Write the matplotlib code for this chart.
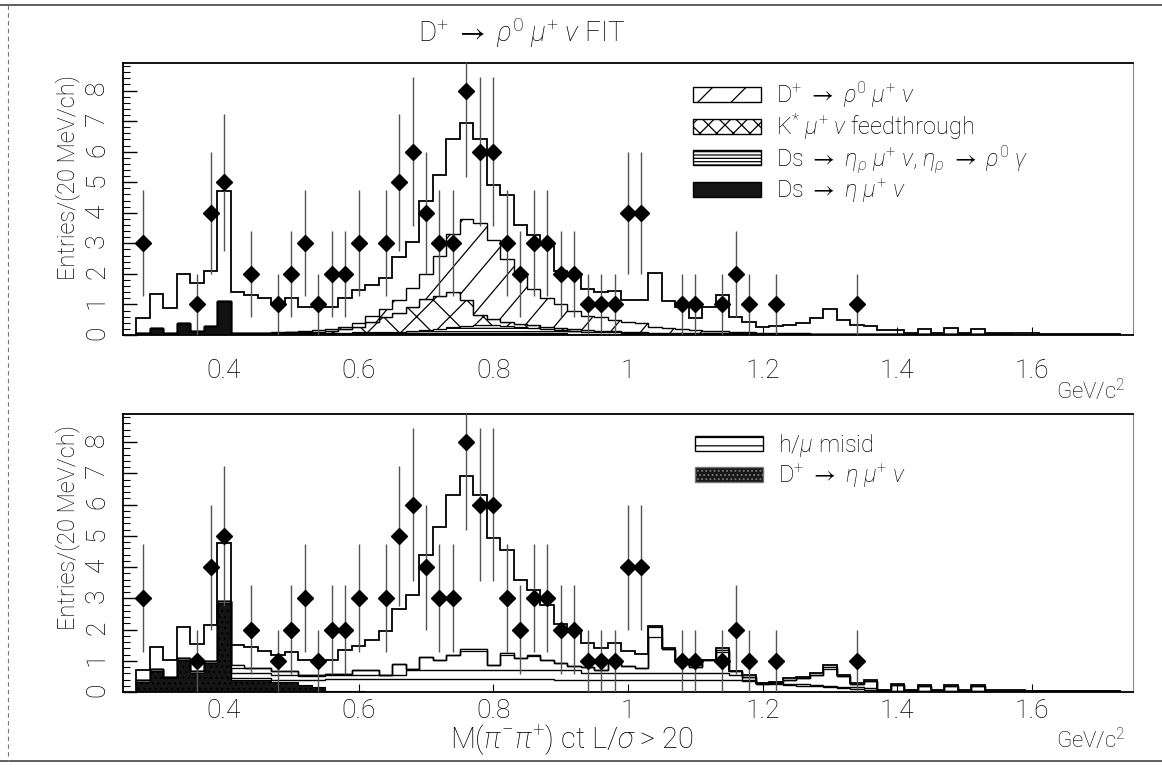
import numpy as np
import matplotlib
matplotlib.use("Agg")
import matplotlib.pyplot as plt
from matplotlib.patches import Patch
from matplotlib.lines import Line2D

plt.rcParams.update({
    "font.family": ["Roboto", "DejaVu Sans"],
    "font.weight": "light",
    "mathtext.fontset": "custom",
    "mathtext.rm": "Roboto:light",
    "mathtext.it": "Roboto:italic:light",
    "mathtext.bf": "Roboto:bold",
    "mathtext.fallback": "stixsans",
    "hatch.linewidth": 0.9,
})

# ---------------- data ----------------
bin_low = 0.27        # GeV/c^2, first bin edge
bin_width = 0.02      # 20 MeV / channel
n_bins = 73

x_ticks = [0.4, 0.6, 0.8, 1.0, 1.2, 1.4, 1.6]
x_tick_labels = ["0.4", "0.6", "0.8", "1", "1.2", "1.4", "1.6"]
y_ticks = [0, 1, 2, 3, 4, 5, 6, 7, 8]

counts = [3, 0, 0, 0, 1, 4, 5, 0, 2, 0,
          1, 2, 3, 1, 2, 2, 3, 0, 3, 5,
          6, 4, 3, 3, 8, 6, 6, 3, 2, 3,
          3, 2, 2, 1, 1, 1, 4, 4, 0, 0,
          1, 1, 0, 1, 2, 1, 0, 1, 0, 0,
          0, 0, 0, 1, 0, 0, 0, 0, 0, 0,
          0, 0, 0, 0, 0, 0, 0, 0, 0, 0,
          0, 0, 0]

# top panel : fit components
total_top = [0.55, 1.33, 0.87, 1.99, 1.69, 2.10, 4.70, 1.42, 1.31, 1.20,
             1.05, 1.20, 0.90, 0.90, 0.90, 1.20, 1.47, 1.62, 1.85, 2.56,
             3.03, 4.37, 5.24, 6.40, 6.94, 6.40, 4.90, 4.58, 3.60, 3.28,
             3.00, 2.10, 2.00, 1.52, 1.42, 1.45, 1.15, 1.15, 2.04, 1.10,
             0.91, 0.55, 0.91, 1.31, 0.60, 0.44, 0.25, 0.28, 0.34, 0.39,
             0.55, 0.84, 0.49, 0.33, 0.28, 0.17, 0.15, 0.08, 0.20, 0.08,
             0.22, 0.08, 0.20, 0.06, 0.06, 0.05, 0.05, 0.04, 0.04, 0.04,
             0.04, 0.03, 0.03]
ds_eta_top = [0.06, 0.22, 0.08, 0.38, 0.12, 0.30, 1.12, 0.06, 0.05, 0.05,
              0.05, 0.05, 0.05, 0.05, 0.05, 0.05, 0.05, 0.05, 0.05, 0.05,
              0.05, 0.05, 0.05, 0.05, 0.05, 0.05, 0.05, 0.05, 0.05, 0.05,
              0.05, 0.05, 0.04, 0.04, 0.04, 0.04, 0.04, 0.04, 0.03, 0.03,
              0.03, 0.03, 0.03, 0.03, 0.02, 0.02, 0.02, 0.02, 0.02, 0.02,
              0.02, 0.02, 0.02, 0.02, 0.02, 0.02, 0.02, 0.02, 0.03, 0.02,
              0.02, 0.02, 0.03, 0.02, 0.02, 0.01, 0.01, 0.01, 0.01, 0.01,
              0.01, 0.01, 0.01]
ds_etap_top = [0, 0, 0, 0, 0, 0, 0, 0.02, 0.02, 0.02,
               0.02, 0.02, 0.02, 0.02, 0.03, 0.03, 0.04, 0.04, 0.05, 0.06,
               0.08, 0.12, 0.15, 0.20, 0.26, 0.28, 0.28, 0.26, 0.22, 0.18,
               0.14, 0.10, 0.08, 0.06, 0.05, 0.05, 0.04, 0.04, 0.03, 0.03,
               0.03, 0.02, 0.02, 0.02, 0.02, 0.02, 0.01, 0.01, 0.01, 0.01,
               0, 0, 0, 0, 0, 0, 0, 0, 0, 0,
               0, 0, 0, 0, 0, 0, 0, 0, 0, 0,
               0, 0, 0]
kstar_top = [0, 0, 0, 0, 0, 0, 0, 0, 0, 0,
             0.01, 0.02, 0.03, 0.04, 0.05, 0.10, 0.18, 0.33, 0.48, 0.62,
             0.80, 1.00, 1.08, 1.15, 0.82, 0.32, 0.18, 0.12, 0.10, 0.09,
             0.08, 0.07, 0.06, 0.05, 0.04, 0.04, 0.03, 0.03, 0.02, 0.02,
             0.02, 0.02, 0.01, 0.01, 0.01, 0.01, 0.01, 0.01, 0.01, 0.01,
             0, 0, 0, 0, 0, 0, 0, 0, 0, 0,
             0, 0, 0, 0, 0, 0, 0, 0, 0, 0,
             0, 0, 0]
rho_top = [0, 0, 0, 0, 0, 0, 0, 0, 0, 0,
           0.01, 0.02, 0.03, 0.04, 0.05, 0.07, 0.12, 0.20, 0.26, 0.40,
           0.60, 0.82, 1.30, 1.90, 2.65, 3.00, 2.60, 2.05, 1.55, 1.18,
           0.95, 0.78, 0.62, 0.48, 0.45, 0.36, 0.31, 0.27, 0.17, 0.14,
           0.12, 0.10, 0.08, 0.06, 0.05, 0.04, 0.03, 0.03, 0.02, 0.02,
           0, 0, 0, 0, 0, 0, 0, 0, 0, 0,
           0, 0, 0, 0, 0, 0, 0, 0, 0, 0,
           0, 0, 0]

# bottom panel : fit components
total_bot = [0.72, 1.45, 1.02, 2.09, 1.53, 2.15, 4.78, 1.50, 1.43, 1.32,
             1.18, 1.29, 1.04, 1.04, 1.04, 1.34, 1.47, 1.66, 1.95, 2.65,
             3.12, 4.40, 5.28, 6.30, 6.93, 6.30, 4.93, 4.54, 3.58, 3.26,
             2.78, 2.17, 1.93, 1.58, 1.40, 1.56, 1.32, 1.22, 2.10, 1.40,
             1.02, 0.86, 1.04, 1.40, 0.68, 0.54, 0.30, 0.33, 0.44, 0.47,
             0.60, 0.86, 0.54, 0.28, 0.38, 0.08, 0.25, 0.08, 0.22, 0.08,
             0.22, 0.08, 0.22, 0.06, 0.05, 0.05, 0.04, 0.04, 0.03, 0.03,
             0.03, 0.02, 0.02]
d_eta_bot = [0.33, 0.68, 0.44, 1.04, 0.62, 0.94, 2.85, 0.40, 0.40, 0.40,
             0.33, 0.33, 0.22, 0.15, 0.03, 0.02, 0.02, 0.01, 0.01, 0.01,
             0.01, 0.01, 0.01, 0.01, 0.01, 0.01, 0.01, 0.01, 0.01, 0.01,
             0.01, 0, 0, 0, 0, 0, 0, 0, 0, 0,
             0, 0, 0, 0, 0, 0, 0, 0, 0, 0,
             0, 0, 0, 0, 0, 0, 0, 0, 0, 0,
             0, 0, 0, 0, 0, 0, 0, 0, 0, 0,
             0, 0, 0]
flat_bot = [0.05, 0.05, 0.05, 0.05, 0.05, 0.05, 0.05, 0.06, 0.06, 0.06,
            0.06, 0.06, 0.15, 0.25, 0.40, 0.40, 0.40, 0.40, 0.40, 0.40,
            0.40, 0.40, 0.40, 0.40, 0.40, 0.40, 0.40, 0.40, 0.40, 0.40,
            0.40, 0.40, 0.40, 0.40, 0.40, 0.40, 0.40, 0.40, 0.40, 0.40,
            0.40, 0.40, 0.40, 0.40, 0.38, 0.35, 0.25, 0.25, 0.22, 0.20,
            0.18, 0.15, 0.12, 0.10, 0.08, 0.03, 0.04, 0.03, 0.03, 0.03,
            0.02, 0.02, 0.02, 0.02, 0.02, 0.02, 0.02, 0.02, 0.02, 0.02,
            0.02, 0.02, 0.02]
other_bot = [0, 0, 0, 0, 0, 0, 0, 0.15, 0.15, 0.15,
             0.15, 0.15, 0.15, 0.12, 0.12, 0.12, 0.12, 0.12, 0.12, 0.12,
             0.30, 0.30, 0.30, 0.30, 0.30, 0.30, 0.30, 0.30, 0.30, 0.30,
             0.30, 0.30, 0.30, 0.20, 0.20, 0.20, 0.20, 0.20, 0.20, 0.20,
             0.20, 0.20, 0.20, 0.20, 0.15, 0.05, 0, 0.05, 0.05, 0.05,
             0.05, 0.05, 0.05, 0.05, 0.05, 0, 0, 0, 0, 0,
             0, 0, 0, 0, 0, 0, 0, 0, 0, 0,
             0, 0, 0]
misid_bot = [0, 0, 0, 0, 0, 0, 0, 0.25, 0.17, 0.15,
             0.12, 0.12, 0.03, 0.02, 0.02, 0.04, 0.16, 0.17, 0.02, 0.37,
             0.04, 0.42, 0.31, 0.49, 0.67, 0.67, 0.15, 0.54, 0.37, 0.49,
             0.33, 0.24, 0.14, 0.19, 0.12, 0.40, 0.23, 0.16, 1.48, 0.77,
             0.44, 0.19, 0.44, 0.73, 0.15, 0.09, 0.03, 0.02, 0.13, 0.20,
             0.32, 0.60, 0.33, 0.10, 0.22, 0.02, 0.18, 0.02, 0.17, 0.02,
             0.18, 0.02, 0.18, 0.01, 0.01, 0.01, 0.01, 0.01, 0.01, 0.01,
             0.01, 0.01, 0.01]
misid_strip_bot = [0, 0, 0, 0, 0, 0, 0, 0.08, 0, 0,
                   0, 0, 0, 0, 0, 0, 0, 0, 0, 0,
                   0, 0, 0, 0, 0.06, 0.06, 0, 0.06, 0, 0.06,
                   0, 0, 0, 0, 0, 0, 0, 0, 0.33, 0,
                   0, 0, 0, 0.06, 0, 0, 0, 0, 0, 0,
                   0, 0.06, 0, 0, 0, 0, 0, 0, 0, 0,
                   0, 0, 0, 0, 0, 0, 0, 0, 0, 0,
                   0, 0, 0]

# ---------------- figure ----------------
W, H = 1162, 767
fig = plt.figure(figsize=(W / 100, H / 100), dpi=100)


def fx(px):
    return px / W


def fy(py):
    return 1 - py / H


ax_top = fig.add_axes([fx(123), fy(335), fx(1133) - fx(123), fy(63) - fy(335)])
ax_bot = fig.add_axes([fx(123), fy(692), fx(1133) - fx(123), fy(414) - fy(692)])

edges = bin_low + bin_width * np.arange(n_bins + 1)
centers = edges[:-1] + bin_width / 2
cnt = np.array(counts, dtype=float)


def style_axes(ax, label_pad):
    ax.set_xlim(0.25, 1.75)
    ax.set_ylim(0, 8.9)
    ax.set_xticks(x_ticks)
    ax.set_xticklabels(x_tick_labels)
    ax.set_yticks(y_ticks)
    ax.set_yticks(np.arange(0, 8.9, 0.2), minor=True)
    ax.tick_params(axis="y", which="major", direction="in", length=10, width=1.0,
                   labelsize=19, pad=10, labelrotation=90)
    ax.tick_params(axis="y", which="minor", direction="in", length=5, width=0.8)
    ax.tick_params(axis="x", which="major", direction="in", length=6, width=0.8,
                   labelsize=19, pad=label_pad)
    for s in ("left", "bottom", "top"):
        ax.spines[s].set_linewidth(1.3)
    ax.spines["right"].set_linewidth(0.8)
    ax.spines["right"].set_color("#888888")


def draw_data(ax):
    m = cnt > 0
    ax.errorbar(centers[m], cnt[m], yerr=np.sqrt(cnt[m]), fmt="D", ms=8.5,
                color="black", ecolor="#555555", elinewidth=1.0, capsize=0,
                zorder=6)


# ---- top panel ----
ax = ax_top
c1 = np.array(ds_eta_top)
c2 = c1 + np.array(ds_etap_top)
c3 = c2 + np.array(kstar_top)
c4 = c3 + np.array(rho_top)
ax.stairs(c1, edges, baseline=0, fill=True, facecolor="#111111",
          edgecolor="black", lw=0.8, zorder=2)
ax.stairs(c2, edges, baseline=c1, fill=True, facecolor="white",
          edgecolor="black", hatch="-----", lw=0.8, zorder=2)
ax.stairs(c3, edges, baseline=c2, fill=True, facecolor="white",
          edgecolor="black", hatch="x", lw=0.9, zorder=2)
rho_patch = ax.stairs(c4, edges, baseline=c3, fill=True, facecolor="white",
                      edgecolor="black", lw=1.0, zorder=2)
# sparse diagonal hatching for the rho component
for x0 in np.arange(-0.3, 1.0, 0.030):
    ln = Line2D([x0, x0 + 1 / 4.4], [0, 1], transform=ax.transAxes,
                color="black", lw=0.9, zorder=2.5)
    ax.add_line(ln)
    ln.set_clip_path(rho_patch)
ax.stairs(total_top, edges, baseline=0, color="black", lw=1.3, zorder=3)
draw_data(ax)
style_axes(ax, 17)

top_handles = [
    Patch(facecolor="white", edgecolor="black", hatch="/", lw=1.0),
    Patch(facecolor="white", edgecolor="black", hatch="xx", lw=1.0),
    Patch(facecolor="white", edgecolor="black", hatch="-----", lw=1.0),
    Patch(facecolor="#161616", edgecolor="black", lw=1.0),
]
top_labels = [
    r"D$^{+}$ $\rightarrow$ $\rho^{0}$ $\mu^{+}$ $\nu$",
    r"K$^{*}$ $\mu^{+}$ $\nu$ feedthrough",
    r"Ds $\rightarrow$ $\eta_{\rho}$ $\mu^{+}$ $\nu$, $\eta_{\rho}$ $\rightarrow$ $\rho^{0}$ $\gamma$",
    r"Ds $\rightarrow$ $\eta$ $\mu^{+}$ $\nu$",
]
ax.legend(top_handles, top_labels, loc="upper left",
          bbox_to_anchor=((693 - 123) / 1010, 0.94), frameon=False,
          fontsize=17, handlelength=2.9, handleheight=0.6, handletextpad=0.6,
          labelspacing=0.08, borderpad=0, borderaxespad=0)

# ---- bottom panel ----
ax = ax_bot
b1 = np.array(d_eta_bot)
b2 = b1 + np.array(flat_bot)
b3 = b2 + np.array(other_bot)
b4 = b3 + np.array(misid_bot)
strip = np.array(misid_strip_bot)
ax.stairs(b1, edges, baseline=0, fill=True, facecolor="#151515",
          edgecolor="black", hatch="...", lw=0.6, zorder=2)
ax.stairs(b1, edges, baseline=0, fill=False, color="black", lw=0.8, zorder=2)
ax.stairs(b2, edges, baseline=None, color="black", lw=1.0, zorder=2)
ax.stairs(b3, edges, baseline=None, color="black", lw=1.0, zorder=2)
ax.stairs(b4, edges, baseline=None, color="black", lw=1.0, zorder=2)
ax.stairs(b4, edges, baseline=b4 - strip, fill=True, facecolor="white",
          edgecolor="black", lw=0.9, zorder=2.2)
ax.stairs(total_bot, edges, baseline=0, color="black", lw=1.3, zorder=3)
draw_data(ax)
style_axes(ax, 5)

bot_handles = [
    Patch(facecolor="white", edgecolor="black", hatch="--", lw=1.0),
    Patch(facecolor="#161616", edgecolor="#777777", hatch="....", lw=1.0),
]
bot_labels = [
    r"h/$\mu$ misid",
    r"D$^{+}$ $\rightarrow$ $\eta$ $\mu^{+}$ $\nu$",
]
ax.legend(bot_handles, bot_labels, loc="upper left",
          bbox_to_anchor=((695 - 123) / 1010, 0.935), frameon=False,
          fontsize=17, handlelength=2.9, handleheight=0.6, handletextpad=0.6,
          labelspacing=0.12, borderpad=0, borderaxespad=0)

# ---- texts ----
fig.text(fx(522), fy(33), r"D$^{+}$ $\rightarrow$ $\rho^{0}$ $\mu^{+}$ $\nu$ FIT",
         ha="center", va="center", fontsize=20)
fig.text(fx(68), fy(177), "Entries/(20 MeV/ch)", rotation=90,
         ha="center", va="center", fontsize=17)
fig.text(fx(68), fy(528), "Entries/(20 MeV/ch)", rotation=90,
         ha="center", va="center", fontsize=17)
fig.text(fx(1126), fy(391), r"GeV/c$^{2}$", ha="right", va="center", fontsize=16)
fig.text(fx(1126), fy(740), r"GeV/c$^{2}$", ha="right", va="center", fontsize=16)
fig.text(fx(572), fy(740), r"M($\pi^{-}\pi^{+}$) ct L/$\sigma$ > 20",
         ha="center", va="center", fontsize=21)

# outer frame lines of the scanned page
fig.add_artist(Line2D([fx(0), fx(1162)], [fy(5), fy(5)], color="#444444", lw=1.2))
fig.add_artist(Line2D([fx(0), fx(1162)], [fy(761), fy(761)], color="#444444", lw=1.2))
fig.add_artist(Line2D([fx(8), fx(8)], [fy(5), fy(761)], color="#777777", lw=0.8,
                      ls=(0, (4, 3))))

fig.savefig("out.png", dpi=100)
